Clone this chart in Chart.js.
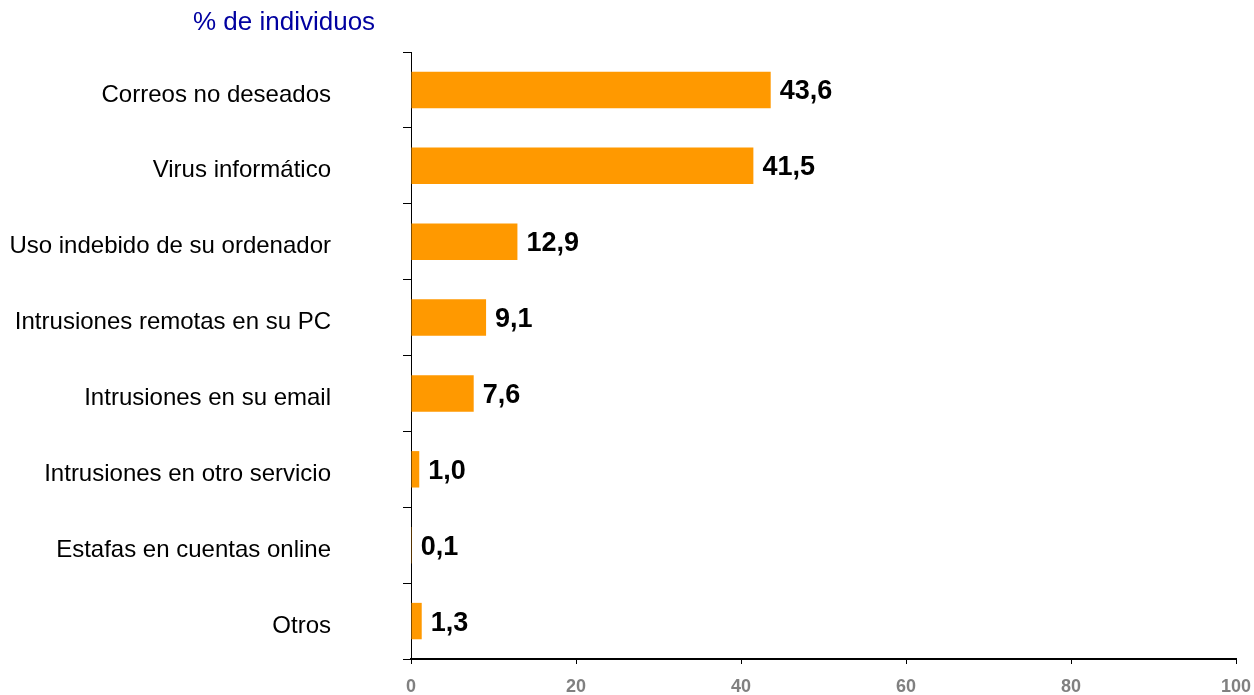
<!DOCTYPE html>
<html>
<head>
<meta charset="utf-8">
<script src="https://cdn.jsdelivr.net/npm/chart.js@4/dist/chart.umd.min.js"></script>
<style>
  body { margin: 0; background: #fff; }
  #wrap { position: relative; width: 1254px; height: 695px; }
  #unit { position: absolute; left: 193px; top: 6px; font: 26px "Liberation Sans", Arial, sans-serif; color: #0000a0; }
</style>
</head>
<body>
<div id="wrap">
  <div id="unit">% de individuos</div>
  <canvas id="chart" width="1254" height="695"></canvas>
</div>
<script>
const categories = [
  "Correos no deseados",
  "Virus informático",
  "Uso indebido de su ordenador",
  "Intrusiones remotas en su PC",
  "Intrusiones en su email",
  "Intrusiones en otro servicio",
  "Estafas en cuentas online",
  "Otros"
];
const values = [43.6, 41.5, 12.9, 9.1, 7.6, 1.0, 0.1, 1.3];
const xTicks = [0, 20, 40, 60, 80, 100];

const valueLabels = {
  id: "valueLabels",
  afterDatasetsDraw(chart) {
    const ctx = chart.ctx;
    const meta = chart.getDatasetMeta(0);
    ctx.save();
    ctx.font = "bold 27px 'Liberation Sans', Arial, sans-serif";
    ctx.fillStyle = "#000";
    ctx.textAlign = "left";
    ctx.textBaseline = "middle";
    meta.data.forEach((bar, i) => {
      ctx.fillText(values[i].toFixed(1).replace(".", ","), bar.x + 9, bar.y + 2);
    });
    ctx.restore();
  }
};

new Chart(document.getElementById("chart"), {
  type: "bar",
  data: {
    labels: categories,
    datasets: [{
      data: values,
      backgroundColor: "#ff9900",
      barPercentage: 0.48,
      categoryPercentage: 1
    }]
  },
  options: {
    responsive: false,
    animation: false,
    indexAxis: "y",
    layout: { padding: { top: 52, right: 18, left: 0, bottom: 0 } },
    plugins: { legend: { display: false }, tooltip: { enabled: false } },
    scales: {
      x: {
        min: 0, max: 100,
        afterBuildTicks: s => { s.ticks = xTicks.map(v => ({ value: v })); },
        afterFit: s => { s.height = 36; s.paddingLeft = 0; s.paddingRight = 0; },
        border: { color: "#000", width: 2 },
        grid: { drawOnChartArea: false, tickLength: 5, color: "#000", tickWidth: 1 },
        ticks: {
          padding: 12,
          color: "#808080",
          font: { family: "'Liberation Sans Narrow', 'Arial Narrow', 'Liberation Sans', sans-serif", size: 18, weight: "bold" }
        }
      },
      y: {
        afterFit: s => { s.width = 411; s.paddingTop = 0; s.paddingBottom = 0; },
        border: { color: "#000", width: 1 },
        grid: { offset: true, drawOnChartArea: false, tickLength: 8, color: "#000" },
        ticks: {
          padding: 72,
          labelOffset: 5,
          color: "#000",
          font: { family: "'Liberation Sans', Arial, sans-serif", size: 24 }
        }
      }
    }
  },
  plugins: [valueLabels]
});
</script>
</body>
</html>
